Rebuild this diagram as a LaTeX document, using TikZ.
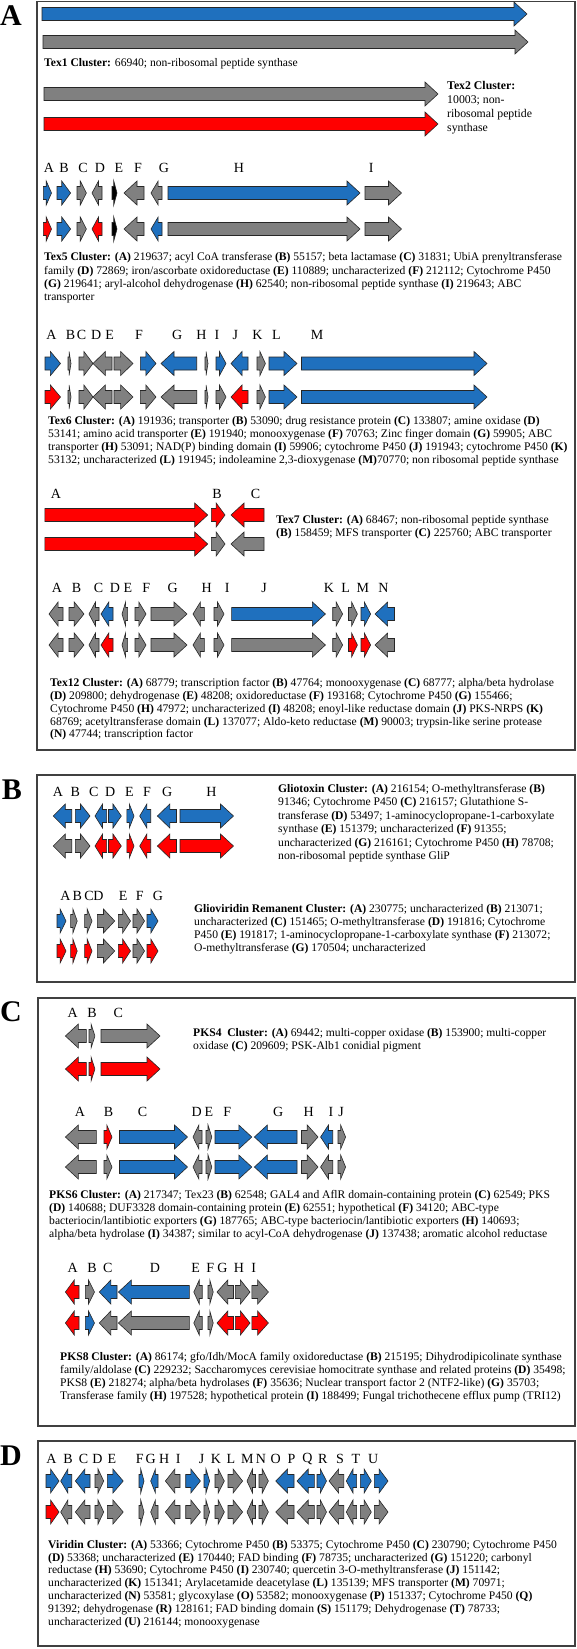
\documentclass[tikz,border=0pt]{standalone}
\usepackage{fontspec}
\setmainfont{Liberation Serif}
\definecolor{gblue}{RGB}{31,112,190}
\definecolor{ggray}{RGB}{128,128,128}
\definecolor{gred}{RGB}{255,0,0}
\tikzset{
  genebox/.style={draw=black!85,line width=0.6pt,line join=miter},
  lbl/.style={font=\fontsize{14}{14}\selectfont,inner sep=0pt},
  cluscap/.style={font=\fontsize{11.6}{13.2}\selectfont,align=left,anchor=north west,inner sep=0pt},
  panel/.style={font=\fontsize{30}{30}\selectfont\bfseries,inner sep=0pt},
  panelbox/.style={draw=black!75,line width=1.2pt}
}
% x1, x2, y, direction (1/-1), colour
\newcommand\gene[5]{%
  \pgfmathsetmacro\gl{#2-#1}%
  \pgfmathsetmacro\hl{min(13,0.65*\gl)}%
  \ifnum#4>0 \def\xb{#1}\def\xt{#2}\else\def\xb{#2}\def\xt{#1}\fi
  \pgfmathsetmacro\xh{\xt-#4*\hl}%
  \draw[genebox,fill=#5] (\xb,#3-6.5) -- (\xh,#3-6.5) -- (\xh,#3-12) -- (\xt,#3)
    -- (\xh,#3+12) -- (\xh,#3+6.5) -- (\xb,#3+6.5) -- cycle;}
\newcommand\cluster[3]{% y row 1, y row 2, genes
  \foreach \a/\b/\d/\c/\e in {#3}{\gene{\a}{\b}{#1}{\d}{\c}\gene{\a}{\b}{#2}{\d}{\e}}}
\begin{document}
\begin{tikzpicture}[x=1pt,y=-1pt]
\useasboundingbox (0,0) rectangle (576,1649);
\fill[white] (0,0) rectangle (576,1649);

\draw[panelbox] (37,1.5) rectangle (575,750);
\draw[panelbox] (37,775) rectangle (575,982);
\draw[panelbox] (38,998) rectangle (575,1426);
\draw[panelbox] (38,1441) rectangle (575,1646);
\node[panel] (pa) at (11,16) {A};
\node[panel] (pb) at (12,790) {B};
\node[panel] (pc) at (11,1012) {C};
\node[panel] (pd) at (11,1456) {D};

% Tex1 and Tex2
\gene{42}{527}{14}{1}{gblue}
\gene{43}{528}{42}{1}{ggray}
\node[cluscap] (tex1) at (44,58) {\textbf{Tex1 Cluster:} 66940; non-ribosomal peptide synthase};
\gene{44}{438}{94}{1}{ggray}
\gene{44}{438}{124}{1}{gred}
\node[cluscap,font=\fontsize{11.8}{14}\selectfont] (tex2) at (447,81) {\textbf{Tex2 Cluster:}\\10003; non-\\ribosomal peptide\\synthase};

% Tex5
\foreach \l/\x in {A/49,B/64,C/83,D/100,E/119,F/138,G/164,H/239,I/371.3}
  \node[lbl] at (\x,168) {\l};
\cluster{193}{229}{43.4/51.5/1/gblue/gred, 57/70.6/1/gblue/gblue, 77/86.4/1/ggray/ggray,
  92/102/-1/ggray/gred, 112/117/1/black/black, 124/144/-1/ggray/ggray, 151/162/-1/ggray/gblue,
  168/360/1/gblue/ggray, 365/401.5/1/ggray/ggray}
\node[cluscap] (tex5) at (44,252.5) {\textbf{Tex5 Cluster: (A)} 219637; acyl CoA transferase \textbf{(B)} 55157; beta lactamase \textbf{(C)} 31831; UbiA prenyltransferase\\
family \textbf{(D)} 72869; iron/ascorbate oxidoreductase \textbf{(E)} 110889; uncharacterized \textbf{(F)} 212112; Cytochrome P450\\
\textbf{(G)} 219641; aryl-alcohol dehydrogenase \textbf{(H)} 62540; non-ribosomal peptide synthase \textbf{(I)} 219643; ABC\\
transporter};

% Tex6
\foreach \l/\x in {A/51.5,B/70.6,C/81.6,D/96.3,E/109.6,F/139,G/177.2,H/201.5,I/217,J/235.3,K/257.4,L/276.5,M/317}
  \node[lbl] at (\x,335) {\l};
\cluster{363.5}{397}{45/60.5/1/gblue/gred, 68/71/1/ggray/ggray, 79/93/1/ggray/ggray,
  93/112/-1/ggray/ggray, 114/133/1/ggray/ggray, 140.4/156/1/gblue/ggray, 161/196.7/-1/gblue/ggray,
  205/208/1/ggray/ggray, 216/226/1/gblue/ggray, 231/248/-1/gblue/gred, 257/265.4/1/ggray/ggray,
  269/297/1/gblue/gblue, 301.5/487/1/gblue/gblue}
\node[cluscap] (tex6) at (48,416) {\textbf{Tex6 Cluster: (A)} 191936; transporter \textbf{(B)} 53090; drug resistance protein \textbf{(C)} 133807; amine oxidase \textbf{(D)}\\
53141; amino acid transporter \textbf{(E)} 191940; monooxygenase \textbf{(F)} 70763; Zinc finger domain \textbf{(G)} 59905; ABC\\
transporter \textbf{(H)} 53091; NAD(P) binding domain \textbf{(I)} 59906; cytochrome P450 \textbf{(J)} 191943; cytochrome P450 \textbf{(K)}\\
53132; uncharacterized \textbf{(L)} 191945; indoleamine 2,3-dioxygenase \textbf{(M)}70770; non ribosomal peptide synthase};

% Tex7
\foreach \l/\x in {A/56,B/217,C/255.5}
  \node[lbl] at (\x,494) {\l};
\cluster{515}{544}{44.9/207.7/1/gred/gred, 211.4/225/1/gred/ggray, 231/264/-1/gred/ggray}
\node[cluscap] (tex7) at (276,515) {\textbf{Tex7 Cluster: (A)} 68467; non-ribosomal peptide synthase\\
\textbf{(B)} 158459; MFS transporter \textbf{(C)} 225760; ABC transporter};

% Tex12
\foreach \l/\x in {A/57,B/76.5,C/98.5,D/115,E/128,F/146.3,G/172.8,H/206.6,I/227.2,J/264,K/329,L/345.6,M/362.9,N/383.5}
  \node[lbl] at (\x,588) {\l};
\cluster{614}{645}{49/63/-1/ggray/ggray, 69/84/1/ggray/ggray, 89/99/-1/ggray/ggray,
  101/113/-1/gblue/gred, 122/127.6/-1/ggray/ggray, 135/146/1/ggray/ggray, 151/187/1/ggray/ggray,
  193/204.4/-1/ggray/ggray, 214/224/1/ggray/ggray, 231.6/325.4/1/gblue/ggray, 332.7/342.6/1/ggray/ggray,
  348.5/357.4/1/ggray/gred, 361/370.6/1/gblue/gred, 375/394.5/-1/gblue/ggray}
\node[cluscap,font=\fontsize{11.6}{12.9}\selectfont] (tex12) at (50,678) {\textbf{Tex12 Cluster: (A)} 68779; transcription factor \textbf{(B)} 47764; monooxygenase \textbf{(C)} 68777; alpha/beta hydrolase\\
\textbf{(D)} 209800; dehydrogenase \textbf{(E)} 48208; oxidoreductase \textbf{(F)} 193168; Cytochrome P450 \textbf{(G)} 155466;\\
Cytochrome P450 \textbf{(H)} 47972; uncharacterized \textbf{(I)} 48208; enoyl-like reductase domain \textbf{(J)} PKS-NRPS \textbf{(K)}\\
68769; acetyltransferase domain \textbf{(L)} 137077; Aldo-keto reductase \textbf{(M)} 90003; trypsin-like serine protease\\
\textbf{(N)} 47744; transcription factor};

% Gliotoxin
\foreach \l/\x in {A/58,B/75.4,C/93.8,D/110.3,E/129.4,F/147,G/167.3,H/211.4}
  \node[lbl] at (\x,792) {\l};
\cluster{816}{846}{53.3/71.7/-1/gblue/ggray, 75.4/90/1/gblue/ggray, 95/106.6/-1/gblue/gred,
  108.5/121.3/1/gblue/gred, 126.8/134/1/gblue/gred, 139.7/150.7/-1/gblue/gred,
  157.4/176.5/-1/gblue/gred, 180/233.5/1/gblue/gred}
\node[cluscap,font=\fontsize{11.6}{13.5}\selectfont] (glio) at (278,784) {\textbf{Gliotoxin Cluster: (A)} 216154; O-methyltransferase \textbf{(B)}\\
91346; Cytochrome P450 \textbf{(C)} 216157; Glutathione S-\\
transferase \textbf{(D)} 53497; 1-aminocyclopropane-1-carboxylate\\
synthase \textbf{(E)} 151379; uncharacterized \textbf{(F)} 91355;\\
uncharacterized \textbf{(G)} 216161; Cytochrome P450 \textbf{(H)} 78708;\\
non-ribosomal peptide synthase GliP};

% Glioviridin
\foreach \l/\x in {A/65.4,B/77.2,C/89,D/98.5,E/123.2,F/139.7,G/158}
  \node[lbl] at (\x,896) {\l};
\cluster{921}{951}{57/66/1/gblue/gred, 70.6/77.2/1/ggray/gred, 84.6/92/1/ggray/gred,
  97.4/114.7/1/ggray/ggray, 118.4/130.5/1/ggray/gred, 133/144.5/1/ggray/ggray, 147/158/1/gblue/gred}
\node[cluscap] (gliov) at (194,904) {\textbf{Glioviridin Remanent Cluster: (A)} 230775; uncharacterized \textbf{(B)} 213071;\\
uncharacterized \textbf{(C)} 151465; O-methyltransferase \textbf{(D)} 191816; Cytochrome\\
P450 \textbf{(E)} 191817; 1-aminocyclopropane-1-carboxylate synthase \textbf{(F)} 213072;\\
O-methyltransferase \textbf{(G)} 170504; uncharacterized};

% PKS4
\foreach \l/\x in {A/72.8,B/92,C/118.4}
  \node[lbl] at (\x,1013) {\l};
\cluster{1036}{1069}{65.4/86.4/-1/ggray/gred, 89/94.9/1/ggray/gred, 101/160/1/ggray/gred}
\node[cluscap] (pks4) at (193,1028) {\textbf{PKS4\ \ Cluster: (A)} 69442; multi-copper oxidase \textbf{(B)} 153900; multi-copper\\
oxidase \textbf{(C)} 209609; PSK-Alb1 conidial pigment};

% PKS6
\foreach \l/\x in {A/80,B/108.5,C/142.6,D/196.7,E/208.8,F/227.2,G/278.3,H/308.8,I/331,J/341.2}
  \node[lbl] at (\x,1112) {\l};
\cluster{1137}{1167}{65.4/96.3/-1/ggray/ggray, 104/112/1/gred/ggray, 119.5/187.5/1/gblue/gblue,
  193/202/-1/ggray/ggray, 206/211.8/1/ggray/ggray, 215/251.8/1/gblue/gblue, 254.4/297/-1/gblue/gblue,
  301.5/318/1/ggray/ggray, 320.6/332.7/-1/gblue/ggray, 338/345.6/1/ggray/ggray}
\node[cluscap] (pks6) at (49,1190) {\textbf{PKS6 Cluster: (A)} 217347; Tex23 \textbf{(B)} 62548; GAL4 and AflR domain-containing protein \textbf{(C)} 62549; PKS\\
\textbf{(D)} 140688; DUF3328 domain-containing protein \textbf{(E)} 62551; hypothetical \textbf{(F)} 34120; ABC-type\\
bacteriocin/lantibiotic exporters \textbf{(G)} 187765; ABC-type bacteriocin/lantibiotic exporters \textbf{(H)} 140693;\\
alpha/beta hydrolase \textbf{(I)} 34387; similar to acyl-CoA dehydrogenase \textbf{(J)} 137438; aromatic alcohol reductase};

% PKS8
\foreach \l/\x in {A/72.8,B/92,C/107.7,D/155,E/195.6,F/210.3,G/222.4,H/239,I/253.7}
  \node[lbl] at (\x,1268) {\l};
\cluster{1292}{1323}{65.4/79/-1/gred/gred, 85.3/94.5/1/ggray/gblue, 99.3/117/-1/gblue/ggray,
  118.4/189.3/-1/gblue/ggray, 193.8/202.2/-1/ggray/ggray, 208/213.2/1/ggray/ggray,
  217/233.5/-1/ggray/gred, 235.3/250/1/ggray/gred, 251.8/268.4/1/ggray/gred}
\node[cluscap] (pks8) at (60,1352) {\textbf{PKS8 Cluster: (A)} 86174; gfo/Idh/MocA family oxidoreductase \textbf{(B)} 215195; Dihydrodipicolinate synthase\\
family/aldolase \textbf{(C)} 229232; Saccharomyces cerevisiae homocitrate synthase and related proteins \textbf{(D)} 35498;\\
PKS8 \textbf{(E)} 218274; alpha/beta hydrolases \textbf{(F)} 35636; Nuclear transport factor 2 (NTF2-like) \textbf{(G)} 35703;\\
Transferase family \textbf{(H)} 197528; hypothetical protein \textbf{(I)} 188499; Fungal trichothecene efflux pump (TRI12)};

% Viridin
\foreach \l/\x in {A/51.5,B/68,C/83.5,D/97.4,E/112,F/139.7,G/150.7,H/164.3,I/178.3,J/201.5,K/216,L/231,M/247.4,N/261,O/275.7,P/291.5,Q/307.4,R/322.8,S/340,T/356,U/373.2}
  \node[lbl] at (\x,1459) {\l};
\cluster{1481}{1512}{46/59/1/gblue/gred, 60.7/71.7/-1/gblue/ggray, 75.4/90/-1/gblue/ggray,
  95/103.7/1/ggray/ggray, 107.4/123.2/1/gblue/ggray, 139/144/1/gblue/ggray, 150.7/158/-1/gblue/ggray,
  165.4/180/-1/ggray/ggray, 185.7/200.4/1/gblue/ggray, 204/209.6/1/gblue/ggray, 215/224.3/1/ggray/ggray,
  228/242.6/1/ggray/ggray, 247/255.5/-1/ggray/ggray, 259/268.4/1/ggray/ggray, 275.7/294/-1/gblue/ggray,
  297/314.3/-1/gblue/ggray, 317/326.5/1/gblue/ggray, 329/343.8/-1/ggray/ggray, 346.3/356.6/-1/gblue/ggray,
  360.3/371.3/1/gblue/ggray, 374.3/388/1/gblue/ggray}
\node[cluscap,font=\fontsize{11.6}{12.8}\selectfont] (virid) at (48,1540) {\textbf{Viridin Cluster: (A)} 53366; Cytochrome P450 \textbf{(B)} 53375; Cytochrome P450 \textbf{(C)} 230790; Cytochrome P450\\
\textbf{(D)} 53368; uncharacterized \textbf{(E)} 170440; FAD binding \textbf{(F)} 78735; uncharacterized \textbf{(G)} 151220; carbonyl\\
reductase \textbf{(H)} 53690; Cytochrome P450 \textbf{(I)} 230740; quercetin 3-O-methyltransferase \textbf{(J)} 151142;\\
uncharacterized \textbf{(K)} 151341; Arylacetamide deacetylase \textbf{(L)} 135139; MFS transporter \textbf{(M)} 70971;\\
uncharacterized \textbf{(N)} 53581; glycoxylase \textbf{(O)} 53582; monooxygenase \textbf{(P)} 151337; Cytochrome P450 \textbf{(Q)}\\
91392; dehydrogenase \textbf{(R)} 128161; FAD binding domain \textbf{(S)} 151179; Dehydrogenase \textbf{(T)} 78733;\\
uncharacterized \textbf{(U)} 216144; monooxygenase};
\end{tikzpicture}
\end{document}
